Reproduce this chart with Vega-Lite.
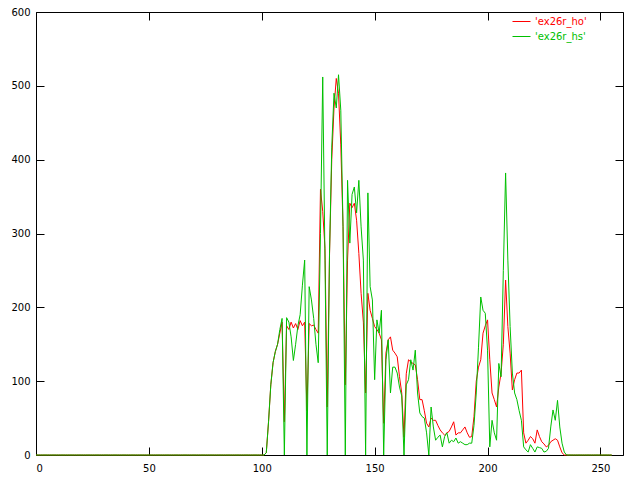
{
"$schema": "https://vega.github.io/schema/vega-lite/v6.json",
"width": 587, "height": 443,
"autosize": "none",
"padding": {"left": 36, "top": 12, "right": 17, "bottom": 25},
"background": "white",
"config": {"view": {"stroke": "black", "strokeWidth": 1}, "font": "DejaVu Sans",
  "axis": {"domain": false, "grid": false, "title": null, "tickColor": "black", "labelFontSize": 10, "labelColor": "black", "labelFont": "DejaVu Sans"}},
"data": {"values": [
{"x":0,"ho":0,"hs":0},{"x":1,"ho":0,"hs":0},{"x":2,"ho":0,"hs":0},{"x":3,"ho":0,"hs":0},{"x":4,"ho":0,"hs":0},{"x":5,"ho":0,"hs":0},{"x":6,"ho":0,"hs":0},{"x":7,"ho":0,"hs":0},{"x":8,"ho":0,"hs":0},{"x":9,"ho":0,"hs":0},
{"x":10,"ho":0,"hs":0},{"x":11,"ho":0,"hs":0},{"x":12,"ho":0,"hs":0},{"x":13,"ho":0,"hs":0},{"x":14,"ho":0,"hs":0},{"x":15,"ho":0,"hs":0},{"x":16,"ho":0,"hs":0},{"x":17,"ho":0,"hs":0},{"x":18,"ho":0,"hs":0},{"x":19,"ho":0,"hs":0},
{"x":20,"ho":0,"hs":0},{"x":21,"ho":0,"hs":0},{"x":22,"ho":0,"hs":0},{"x":23,"ho":0,"hs":0},{"x":24,"ho":0,"hs":0},{"x":25,"ho":0,"hs":0},{"x":26,"ho":0,"hs":0},{"x":27,"ho":0,"hs":0},{"x":28,"ho":0,"hs":0},{"x":29,"ho":0,"hs":0},
{"x":30,"ho":0,"hs":0},{"x":31,"ho":0,"hs":0},{"x":32,"ho":0,"hs":0},{"x":33,"ho":0,"hs":0},{"x":34,"ho":0,"hs":0},{"x":35,"ho":0,"hs":0},{"x":36,"ho":0,"hs":0},{"x":37,"ho":0,"hs":0},{"x":38,"ho":0,"hs":0},{"x":39,"ho":0,"hs":0},
{"x":40,"ho":0,"hs":0},{"x":41,"ho":0,"hs":0},{"x":42,"ho":0,"hs":0},{"x":43,"ho":0,"hs":0},{"x":44,"ho":0,"hs":0},{"x":45,"ho":0,"hs":0},{"x":46,"ho":0,"hs":0},{"x":47,"ho":0,"hs":0},{"x":48,"ho":0,"hs":0},{"x":49,"ho":0,"hs":0},
{"x":50,"ho":0,"hs":0},{"x":51,"ho":0,"hs":0},{"x":52,"ho":0,"hs":0},{"x":53,"ho":0,"hs":0},{"x":54,"ho":0,"hs":0},{"x":55,"ho":0,"hs":0},{"x":56,"ho":0,"hs":0},{"x":57,"ho":0,"hs":0},{"x":58,"ho":0,"hs":0},{"x":59,"ho":0,"hs":0},
{"x":60,"ho":0,"hs":0},{"x":61,"ho":0,"hs":0},{"x":62,"ho":0,"hs":0},{"x":63,"ho":0,"hs":0},{"x":64,"ho":0,"hs":0},{"x":65,"ho":0,"hs":0},{"x":66,"ho":0,"hs":0},{"x":67,"ho":0,"hs":0},{"x":68,"ho":0,"hs":0},{"x":69,"ho":0,"hs":0},
{"x":70,"ho":0,"hs":0},{"x":71,"ho":0,"hs":0},{"x":72,"ho":0,"hs":0},{"x":73,"ho":0,"hs":0},{"x":74,"ho":0,"hs":0},{"x":75,"ho":0,"hs":0},{"x":76,"ho":0,"hs":0},{"x":77,"ho":0,"hs":0},{"x":78,"ho":0,"hs":0},{"x":79,"ho":0,"hs":0},
{"x":80,"ho":0,"hs":0},{"x":81,"ho":0,"hs":0},{"x":82,"ho":0,"hs":0},{"x":83,"ho":0,"hs":0},{"x":84,"ho":0,"hs":0},{"x":85,"ho":0,"hs":0},{"x":86,"ho":0,"hs":0},{"x":87,"ho":0,"hs":0},{"x":88,"ho":0,"hs":0},{"x":89,"ho":0,"hs":0},
{"x":90,"ho":0,"hs":0},{"x":91,"ho":0,"hs":0},{"x":92,"ho":0,"hs":0},{"x":93,"ho":0,"hs":0},{"x":94,"ho":0,"hs":0},{"x":95,"ho":0,"hs":0},{"x":96,"ho":0,"hs":0},{"x":97,"ho":0,"hs":0},{"x":98,"ho":0,"hs":0},{"x":99,"ho":0,"hs":0},
{"x":100,"ho":0,"hs":0},{"x":101,"ho":0,"hs":0},{"x":102,"ho":3,"hs":3},{"x":103,"ho":45,"hs":45},{"x":104,"ho":95,"hs":95},{"x":105,"ho":125,"hs":125},{"x":106,"ho":140,"hs":140},{"x":107,"ho":150,"hs":150},{"x":108,"ho":165,"hs":170},{"x":109,"ho":180,"hs":185},
{"x":110,"ho":45,"hs":0},{"x":111,"ho":175,"hs":186},{"x":112,"ho":170,"hs":180},{"x":113,"ho":180,"hs":160},{"x":114,"ho":172,"hs":128},{"x":115,"ho":178,"hs":150},{"x":116,"ho":170,"hs":175},{"x":117,"ho":182,"hs":190},{"x":118,"ho":175,"hs":230},{"x":119,"ho":180,"hs":264},
{"x":120,"ho":60,"hs":0},{"x":121,"ho":178,"hs":228},{"x":122,"ho":175,"hs":210},{"x":123,"ho":176,"hs":185},{"x":124,"ho":170,"hs":150},{"x":125,"ho":165,"hs":125},{"x":126,"ho":360,"hs":300},{"x":127,"ho":330,"hs":512},{"x":128,"ho":280,"hs":264},{"x":129,"ho":65,"hs":0},
{"x":130,"ho":270,"hs":273},{"x":131,"ho":400,"hs":417},{"x":132,"ho":470,"hs":490},{"x":133,"ho":510,"hs":470},{"x":134,"ho":490,"hs":515},{"x":135,"ho":420,"hs":467},{"x":136,"ho":309,"hs":309},{"x":137,"ho":95,"hs":0},{"x":138,"ho":264,"hs":372},{"x":139,"ho":341,"hs":287},
{"x":140,"ho":335,"hs":353},{"x":141,"ho":341,"hs":363},{"x":142,"ho":318,"hs":328},{"x":143,"ho":273,"hs":372},{"x":144,"ho":219,"hs":309},{"x":145,"ho":180,"hs":264},{"x":146,"ho":84,"hs":0},{"x":147,"ho":219,"hs":355},{"x":148,"ho":196,"hs":228},{"x":149,"ho":185,"hs":210},
{"x":150,"ho":174,"hs":102},{"x":151,"ho":170,"hs":183},{"x":152,"ho":165,"hs":165},{"x":153,"ho":156,"hs":196},{"x":154,"ho":43,"hs":0},{"x":155,"ho":138,"hs":129},{"x":156,"ho":156,"hs":156},{"x":157,"ho":160,"hs":84},{"x":158,"ho":142,"hs":119},{"x":159,"ho":138,"hs":119},
{"x":160,"ho":133,"hs":111},{"x":161,"ho":106,"hs":92},{"x":162,"ho":84,"hs":80},{"x":163,"ho":24,"hs":0},{"x":164,"ho":110,"hs":95},{"x":165,"ho":129,"hs":102},{"x":166,"ho":126,"hs":129},{"x":167,"ho":124,"hs":115},{"x":168,"ho":122,"hs":142},{"x":169,"ho":102,"hs":84},
{"x":170,"ho":75,"hs":57},{"x":171,"ho":75,"hs":52},{"x":172,"ho":60,"hs":50},{"x":173,"ho":43,"hs":30},{"x":174,"ho":38,"hs":0},{"x":175,"ho":50,"hs":65},{"x":176,"ho":47,"hs":38},{"x":177,"ho":47,"hs":20},{"x":178,"ho":40,"hs":24},{"x":179,"ho":34,"hs":27},
{"x":180,"ho":30,"hs":11},{"x":181,"ho":27,"hs":25},{"x":182,"ho":30,"hs":30},{"x":183,"ho":32,"hs":16},{"x":184,"ho":38,"hs":20},{"x":185,"ho":45,"hs":18},{"x":186,"ho":27,"hs":23},{"x":187,"ho":30,"hs":16},{"x":188,"ho":30,"hs":18},{"x":189,"ho":34,"hs":16},
{"x":190,"ho":38,"hs":14},{"x":191,"ho":30,"hs":14},{"x":192,"ho":24,"hs":16},{"x":193,"ho":25,"hs":16},{"x":194,"ho":52,"hs":40},{"x":195,"ho":100,"hs":84},{"x":196,"ho":119,"hs":146},{"x":197,"ho":129,"hs":214},{"x":198,"ho":165,"hs":196},{"x":199,"ho":175,"hs":192},
{"x":200,"ho":183,"hs":142},{"x":201,"ho":129,"hs":11},{"x":202,"ho":84,"hs":47},{"x":203,"ho":75,"hs":30},{"x":204,"ho":65,"hs":20},{"x":205,"ho":92,"hs":124},{"x":206,"ho":111,"hs":106},{"x":207,"ho":150,"hs":250},{"x":208,"ho":237,"hs":382},{"x":209,"ho":174,"hs":264},
{"x":210,"ho":138,"hs":174},{"x":211,"ho":88,"hs":111},{"x":212,"ho":102,"hs":84},{"x":213,"ho":111,"hs":75},{"x":214,"ho":111,"hs":60},{"x":215,"ho":115,"hs":47},{"x":216,"ho":30,"hs":11},{"x":217,"ho":16,"hs":7},{"x":218,"ho":20,"hs":4},{"x":219,"ho":25,"hs":14},
{"x":220,"ho":22,"hs":9},{"x":221,"ho":16,"hs":4},{"x":222,"ho":34,"hs":11},{"x":223,"ho":25,"hs":10},{"x":224,"ho":18,"hs":9},{"x":225,"ho":15,"hs":4},{"x":226,"ho":11,"hs":5},{"x":227,"ho":13,"hs":9},{"x":228,"ho":18,"hs":38},{"x":229,"ho":20,"hs":61},
{"x":230,"ho":22,"hs":47},{"x":231,"ho":20,"hs":74},{"x":232,"ho":11,"hs":38},{"x":233,"ho":3,"hs":16},{"x":234,"ho":0,"hs":4},{"x":235,"ho":0,"hs":0},{"x":236,"ho":0,"hs":0},{"x":237,"ho":0,"hs":0},{"x":238,"ho":0,"hs":0},{"x":239,"ho":0,"hs":0},
{"x":240,"ho":0,"hs":0},{"x":241,"ho":0,"hs":0},{"x":242,"ho":0,"hs":0},{"x":243,"ho":0,"hs":0},{"x":244,"ho":0,"hs":0},{"x":245,"ho":0,"hs":0},{"x":246,"ho":0,"hs":0},{"x":247,"ho":0,"hs":0},{"x":248,"ho":0,"hs":0},{"x":249,"ho":0,"hs":0},
{"x":250,"ho":0,"hs":0},{"x":251,"ho":0,"hs":0},{"x":252,"ho":0,"hs":0},{"x":253,"ho":0,"hs":0},{"x":254,"ho":0,"hs":0},{"x":255,"ho":0,"hs":0}
]},
"transform": [{"fold": ["ho", "hs"], "as": ["series", "count"]}],
"layer": [
  {"mark": {"type": "line", "strokeWidth": 1},
   "encoding": {
     "x": {"field": "x", "type": "quantitative", "scale": {"domain": [0, 260], "nice": false, "zero": false},
           "axis": {"orient": "bottom", "values": [0, 50, 100, 150, 200, 250], "tickSize": -8, "labelPadding": 16}},
     "y": {"field": "count", "type": "quantitative", "scale": {"domain": [0, 600], "nice": false},
           "axis": {"orient": "left", "values": [0, 100, 200, 300, 400, 500, 600], "tickSize": -8, "labelPadding": 14}},
     "color": {"field": "series", "type": "nominal",
               "scale": {"domain": ["ho", "hs"], "range": ["#ff0000", "#00c000"]},
               "legend": {"orient": "none", "legendX": 476, "legendY": 0, "title": null, "symbolType": "stroke", "symbolSize": 324, "symbolStrokeWidth": 1,
                          "labelExpr": "\"'ex26r_\" + datum.label + \"'\"",
                          "labelColor": {"expr": "datum.value == 'ho' ? '#ff0000' : '#00c000'"},
                          "labelFontSize": 10, "rowPadding": -5, "padding": 0}}
   }},
  {"mark": {"type": "point", "opacity": 0},
   "encoding": {
     "x": {"field": "x", "type": "quantitative", "axis": {"orient": "top", "labels": false, "tickSize": -8, "values": [0, 50, 100, 150, 200, 250]}},
     "y": {"field": "count", "type": "quantitative", "axis": {"orient": "right", "labels": false, "tickSize": -8, "values": [0, 100, 200, 300, 400, 500, 600]}}
   }}
],
"resolve": {"axis": {"x": "independent", "y": "independent"}}
}
